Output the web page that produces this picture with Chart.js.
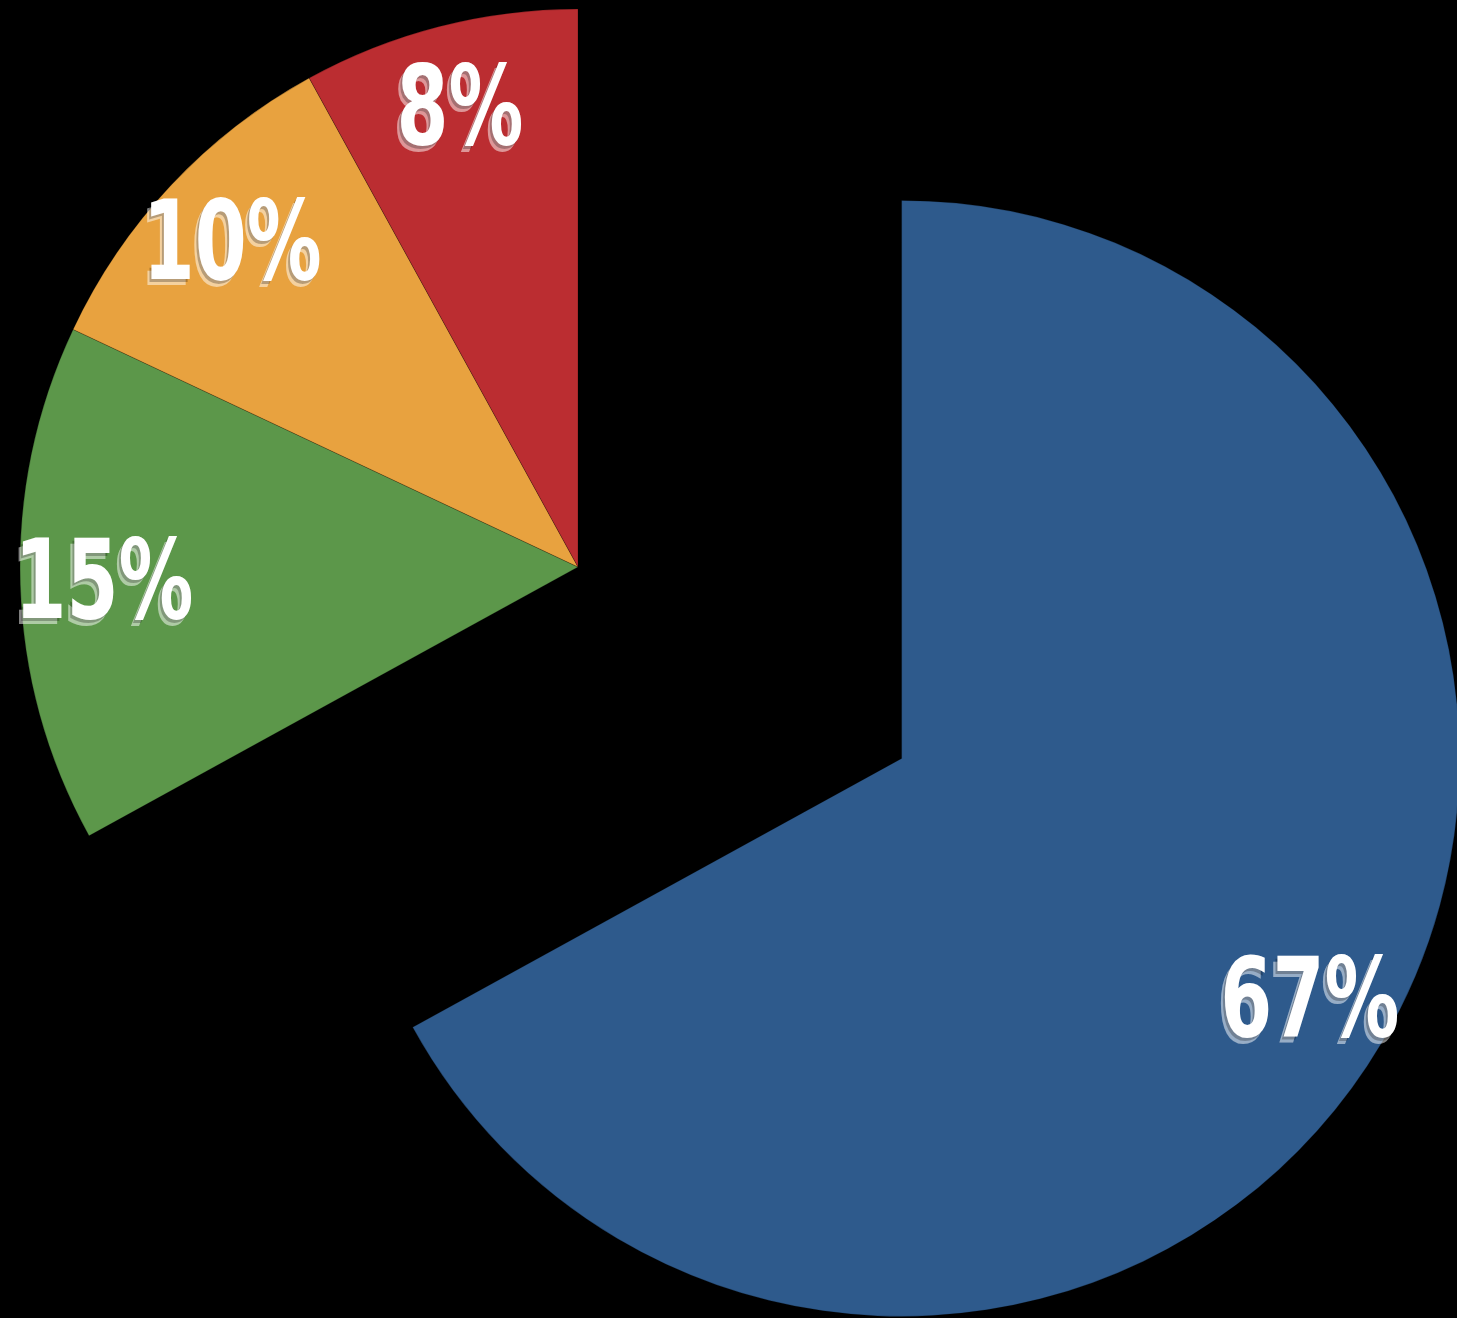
<!DOCTYPE html>
<html>
<head>
<meta charset="utf-8">
<script src="https://cdn.jsdelivr.net/npm/chart.js@4/dist/chart.umd.min.js"></script>
<style>
    html, body { margin: 0; padding: 0; background: #000; }
    #wrap { width: 1457px; height: 1318px; position: relative; }
</style>
</head>
<body>
<div id="wrap"><canvas id="chart"></canvas></div>
<script>
// adatok
let sliceLabels = ['A', 'B', 'C', 'D'];
let sliceValues = [67, 15, 10, 8];
let sliceColors = ['#2E5A8C', '#5C974A', '#E8A23F', '#BB2D31'];
let sliceTexts = ['67%', '15%', '10%', '8%'];

const EXPLODE = 376;     // blue slice pulled out
const LABEL_POS = 0.85;  // label distance, part of the radius

// pull the first slice out along its middle angle
const explodePlugin = {
    id: 'explode',
    afterDatasetsUpdate(chart) {
        let arc = chart.getDatasetMeta(0).data[0];
        if (!arc) return;
        let mid = (arc.startAngle + arc.endAngle) / 2;
        arc.x += Math.cos(mid) * EXPLODE;
        arc.y += Math.sin(mid) * EXPLODE;
    }
};

const labelPlugin = {
    id: 'pctLabels',
    afterDatasetsDraw(chart) {
        let ctx = chart.ctx;
        let meta = chart.getDatasetMeta(0);
        meta.data.forEach((arc, i) => {
            let mid = (arc.startAngle + arc.endAngle) / 2;
            let r = arc.outerRadius * LABEL_POS;
            let x = arc.x + Math.cos(mid) * r;
            let y = arc.y + Math.sin(mid) * r + 8;
            ctx.save();
            ctx.translate(x, y);
            ctx.scale(0.68, 1); // keskenyebb betűk
            ctx.font = 'bold 110px "DejaVu Sans", sans-serif';
            ctx.textAlign = 'center';
            ctx.textBaseline = 'middle';
            // kis "árnyék" balra le
            ctx.fillStyle = 'rgba(255,255,255,0.5)';
            ctx.fillText(sliceTexts[i], -6, 6);
            ctx.fillStyle = 'rgba(0,0,0,0.25)';
            ctx.fillText(sliceTexts[i], -3, 3);
            ctx.fillStyle = '#fff';
            ctx.fillText(sliceTexts[i], 0, 0);
            ctx.restore();
        });
    }
};

let ctx = document.getElementById('chart').getContext('2d');
let chart = new Chart(ctx, {
    type: 'pie',
    data: {
        labels: sliceLabels,
        datasets: [{
            data: sliceValues,
            backgroundColor: sliceColors,
            borderColor: 'rgba(0,0,0,0.22)',
            borderWidth: 1
        }]
    },
    options: {
        responsive: true,
        maintainAspectRatio: false,
        animation: false,
        radius: 558,
        layout: {
            padding: { left: 0, top: 0, right: 301, bottom: 184 }
        },
        plugins: {
            legend: { display: false },
            tooltip: { enabled: false }
        }
    },
    plugins: [explodePlugin, labelPlugin]
});
</script>
</body>
</html>
